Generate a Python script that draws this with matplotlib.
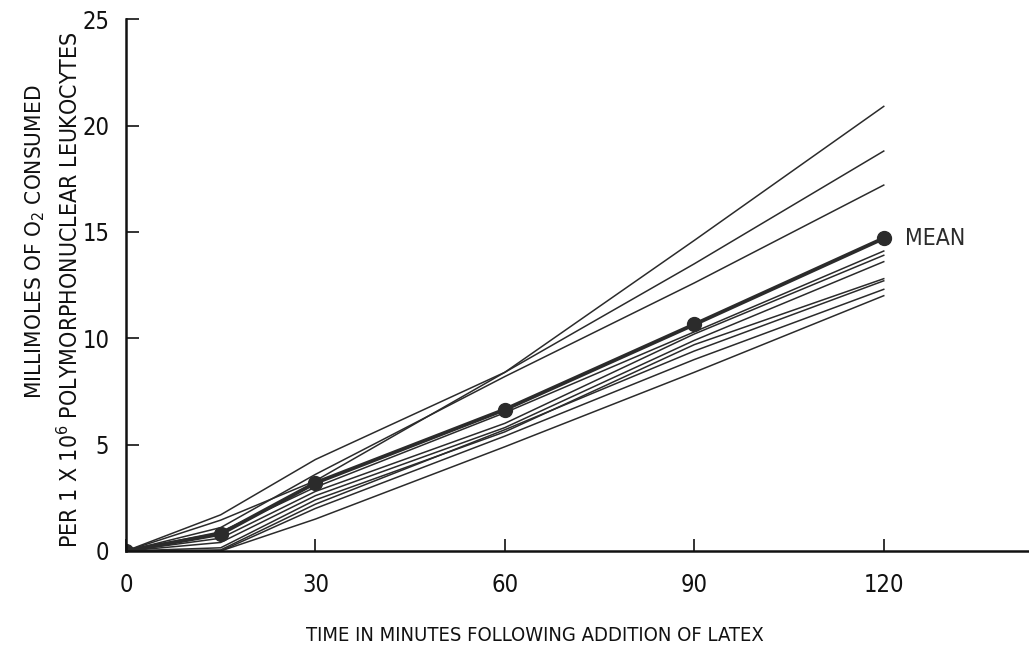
import matplotlib
matplotlib.use("Agg")
import matplotlib.pyplot as plt

plt.rcParams['font.family'] = ['DejaVu Sans']
plt.rcParams['font.stretch'] = 'condensed'
plt.rcParams['mathtext.fontset'] = 'custom'
plt.rcParams['mathtext.rm'] = 'DejaVu Sans:stretch=condensed'

# Data (minutes, millimoles O2)
time_min = [0, 15, 30, 60, 90, 120]
subjects = {
    "S1": [0, 1.7, 4.3, 8.4, 14.6, 20.9],
    "S2": [0, 1.45, 3.3, 8.4, 13.5, 18.8],
    "S3": [0, 1.1, 3.6, 8.2, 12.6, 17.2],
    "S4": [0, 0.9, 3.0, 6.5, 10.3, 14.1],
    "S5": [0, 0.6, 2.8, 6.0, 10.2, 13.9],
    "S6": [0, 0.4, 2.6, 5.8, 9.9, 13.6],
    "S7": [0, 0.15, 2.4, 5.6, 9.7, 12.8],
    "S8": [0, 0.05, 2.2, 5.7, 9.4, 12.7],
    "S9": [0, 0.0, 2.0, 5.4, 9.0, 12.3],
    "S10": [0, 0.0, 1.5, 4.9, 8.4, 12.0],
}
mean_vals = [0, 0.8, 3.2, 6.65, 10.65, 14.7]
x_ticks = [0, 30, 60, 90, 120]
y_ticks = [0, 5, 10, 15, 20, 25]

ink = "#2b2b2b"
fig = plt.figure(figsize=(10.29, 6.47), dpi=100)
ax = fig.add_axes([0.1224, 0.1484, 0.8776, 0.822])

for name, vals in subjects.items():
    ax.plot(time_min, vals, color=ink, lw=1.1, solid_joinstyle='miter')
ax.plot(time_min, mean_vals, color=ink, lw=2.8, marker='o', markersize=10,
        markerfacecolor=ink, markeredgecolor=ink)
ax.annotate("MEAN", (time_min[-1], mean_vals[-1]), xytext=(15, 0),
            textcoords='offset points', va='center', ha='left',
            fontsize=16.5, color=ink)

ax.set_xlim(0, 143)
ax.set_ylim(0, 25)
ax.set_xticks(x_ticks)
ax.set_yticks(y_ticks)
ax.set_xticklabels([str(t) for t in x_ticks])
ax.set_yticklabels([str(t) for t in y_ticks])
for s in ['top', 'right']:
    ax.spines[s].set_visible(False)
for s in ['left', 'bottom']:
    ax.spines[s].set_linewidth(1.8)
    ax.spines[s].set_color('#111111')
ax.tick_params(axis='x', direction='in', length=9, width=1.2, pad=16,
               labelsize=17, colors='#111111')
ax.tick_params(axis='y', direction='in', length=9, width=1.2, pad=12,
               labelsize=17, colors='#111111')

fig.text(0.52, 0.0185, "TIME IN MINUTES FOLLOWING ADDITION OF LATEX",
         ha='center', va='center', fontsize=14.5, color='#111111')
fig.text(0.034, 0.627, r"MILLIMOLES OF O$_{2}$ CONSUMED", rotation=90,
         ha='center', va='center', fontsize=16.2, color='#111111')
fig.text(0.068, 0.552, r"PER 1 X 10$^{6}$ POLYMORPHONUCLEAR LEUKOCYTES", rotation=90,
         ha='center', va='center', fontsize=16.6, color='#111111')

fig.savefig("out.png", dpi=100)
